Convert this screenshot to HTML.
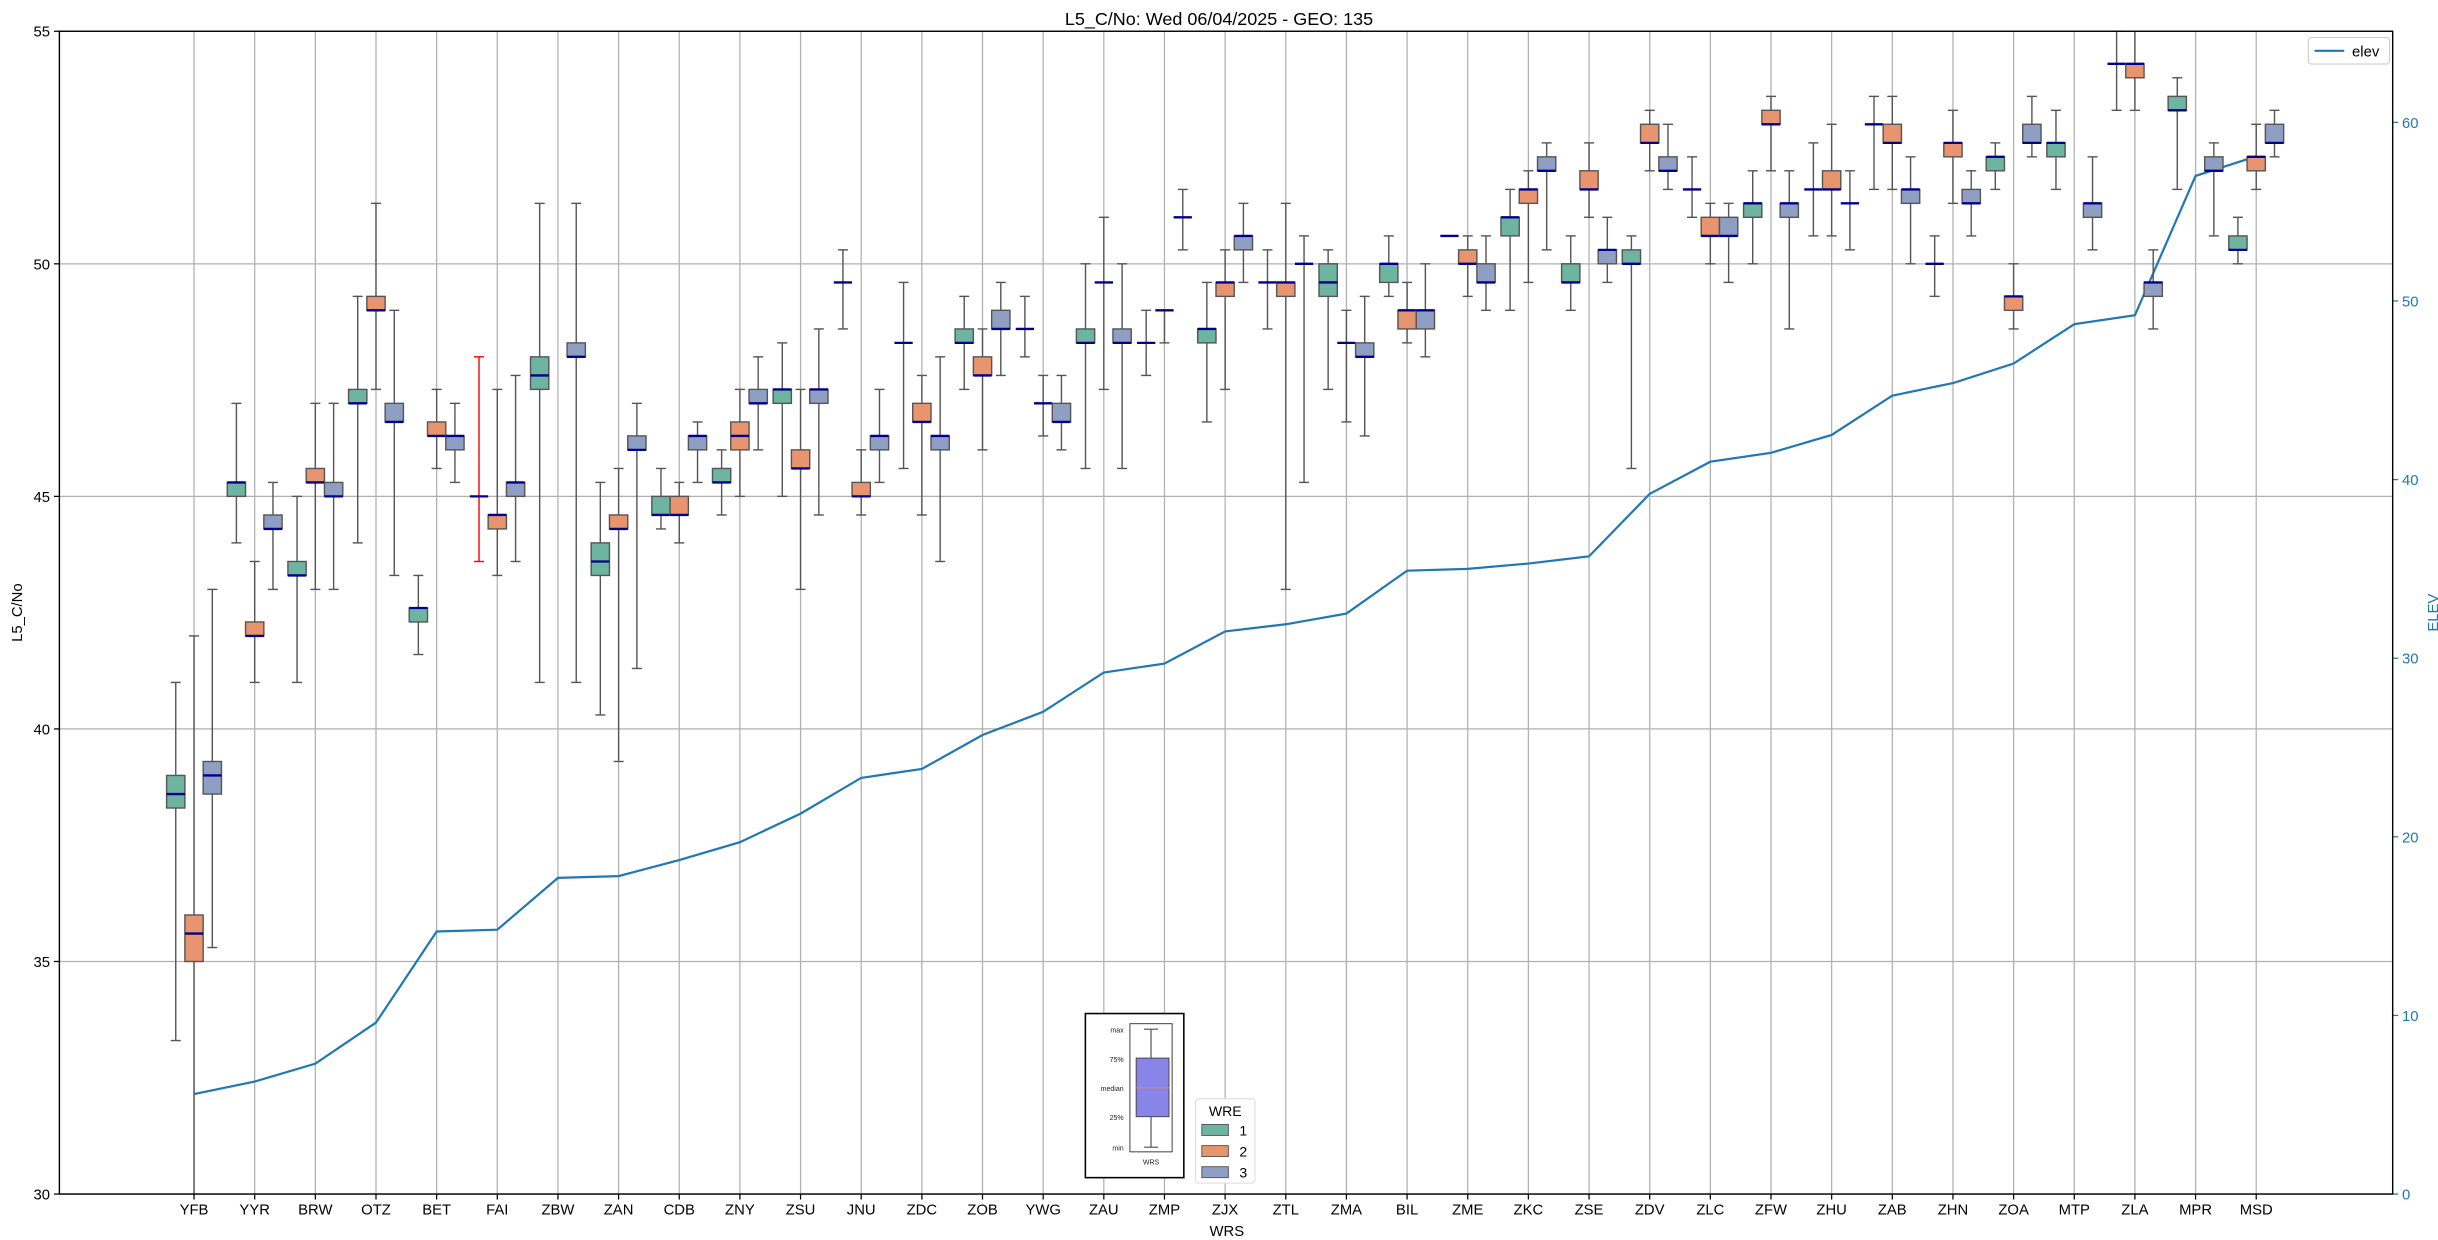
<!DOCTYPE html>
<html><head><meta charset="utf-8"><style>
html,body{margin:0;padding:0;background:#fff;}
svg{display:block;font-family:"Liberation Sans","DejaVu Sans",sans-serif;}
</style></head><body>
<svg id="chart" width="2438" height="1240" viewBox="0 0 1560 793.4" preserveAspectRatio="none" xmlns="http://www.w3.org/2000/svg">
<rect x="0" y="0" width="1560" height="793.4" fill="#fff"/>
<g id="grid"></g>
<g id="elevg"></g>
<g id="boxes"></g>
<g id="axes"></g>
<text x="780" y="16" font-size="11.5" text-anchor="middle">L5_C/No: Wed 06/04/2025 - GEO: 135</text>
<text x="785" y="791" font-size="9.5" text-anchor="middle">WRS</text>
<text x="14" y="392" font-size="9.5" text-anchor="middle" transform="rotate(-90 14 392)">L5_C/No</text>
<text x="1560" y="392" font-size="9.5" text-anchor="middle" fill="#1f77b4" transform="rotate(-90 1560 392)">ELEV</text>
<g>
<rect x="1477" y="24" width="52" height="17" fill="#fff" stroke="#ccc" stroke-width="0.7" rx="2"/>
<line x1="1481" y1="32.5" x2="1500" y2="32.5" stroke="#1f77b4" stroke-width="1.4"/>
<text x="1505" y="36" font-size="9.5">elev</text>
</g>
<g>
<rect x="694.5" y="648.5" width="63" height="105" fill="#fff" stroke="#000" stroke-width="1"/>
<rect x="723" y="655" width="27" height="82" fill="#fff" stroke="#333" stroke-width="0.6"/>
<line x1="736.5" y1="658.5" x2="736.5" y2="734" stroke="#444" stroke-width="0.7"/>
<line x1="732" y1="658.5" x2="741" y2="658.5" stroke="#444" stroke-width="0.7"/>
<line x1="732" y1="734" x2="741" y2="734" stroke="#444" stroke-width="0.7"/>
<rect x="727" y="677" width="21" height="37.5" fill="#8884e8" stroke="#444" stroke-width="0.6"/>
<line x1="727" y1="696" x2="748" y2="696" stroke="#f08a30" stroke-width="0.6"/>
<g font-size="4.5" text-anchor="end" fill="#222">
<text x="719" y="660.5">max</text><text x="719" y="679.5">75%</text><text x="719" y="698">median</text><text x="719" y="716.5">25%</text><text x="719" y="736">min</text>
</g>
<text x="736.5" y="745" font-size="4.5" text-anchor="middle" fill="#222">WRS</text>
</g>
<g>
<rect x="765" y="703" width="38" height="54" fill="#fff" stroke="#ddd" stroke-width="0.7" rx="2"/>
<text x="784" y="714" font-size="9" text-anchor="middle">WRE</text>
<rect x="769" y="719.5" width="17" height="7" fill="#6db5a0" stroke="#555" stroke-width="0.6"/>
<text x="793" y="726.5" font-size="9">1</text>
<rect x="769" y="733" width="17" height="7" fill="#e8956f" stroke="#555" stroke-width="0.6"/>
<text x="793" y="740" font-size="9">2</text>
<rect x="769" y="746.5" width="17" height="7" fill="#8f9fc3" stroke="#555" stroke-width="0.6"/>
<text x="793" y="753.5" font-size="9">3</text>
</g>
</svg>
<script>
const categories=["YFB","YYR","BRW","OTZ","BET","FAI","ZBW","ZAN","CDB","ZNY","ZSU","JNU","ZDC","ZOB","YWG","ZAU","ZMP","ZJX","ZTL","ZMA","BIL","ZME","ZKC","ZSE","ZDV","ZLC","ZFW","ZHU","ZAB","ZHN","ZOA","MTP","ZLA","MPR","MSD"];
// [min, q1, median, q3, max]
const wre1=[[33.3,38.3,38.6,39.0,41.0],[44.0,45.0,45.3,45.3,47.0],[41.0,43.3,43.3,43.6,45.0],[44.0,47.0,47.0,47.3,49.3],[41.6,42.3,42.6,42.6,43.3],[43.6,45.0,45.0,45.0,48.0],[41.0,47.3,47.6,48.0,51.3],[40.3,43.3,43.6,44.0,45.3],[44.3,44.6,44.6,45.0,45.6],[44.6,45.3,45.3,45.6,46.0],[45.0,47.0,47.3,47.3,48.3],[48.6,49.6,49.6,49.6,50.3],[45.6,48.3,48.3,48.3,49.6],[47.3,48.3,48.3,48.6,49.3],[48.0,48.6,48.6,48.6,49.3],[45.6,48.3,48.3,48.6,50.0],[47.6,48.3,48.3,48.3,49.0],[46.6,48.3,48.6,48.6,49.6],[48.6,49.6,49.6,49.6,50.3],[47.3,49.3,49.6,50.0,50.3],[49.3,49.6,50.0,50.0,50.6],[50.6,50.6,50.6,50.6,50.6],[49.0,50.6,51.0,51.0,51.6],[49.0,49.6,49.6,50.0,50.6],[45.6,50.0,50.0,50.3,50.6],[51.0,51.6,51.6,51.6,52.3],[50.0,51.0,51.3,51.3,52.0],[50.6,51.6,51.6,51.6,52.6],[51.6,53.0,53.0,53.0,53.6],[49.3,50.0,50.0,50.0,50.6],[51.6,52.0,52.3,52.3,52.6],[51.6,52.3,52.6,52.6,53.3],[53.3,54.3,54.3,54.3,55.0],[51.6,53.3,53.3,53.6,54.0],[50.0,50.3,50.3,50.6,51.0]];
const wre2=[[29.0,35.0,35.6,36.0,42.0],[41.0,42.0,42.0,42.3,43.6],[43.0,45.3,45.3,45.6,47.0],[47.3,49.0,49.0,49.3,51.3],[45.6,46.3,46.3,46.6,47.3],[43.3,44.3,44.6,44.6,47.3],null,[39.3,44.3,44.3,44.6,45.6],[44.0,44.6,44.6,45.0,45.3],[45.0,46.0,46.3,46.6,47.3],[43.0,45.6,45.6,46.0,47.3],[44.6,45.0,45.0,45.3,46.0],[44.6,46.6,46.6,47.0,47.6],[46.0,47.6,47.6,48.0,48.6],[46.3,47.0,47.0,47.0,47.6],[47.3,49.6,49.6,49.6,51.0],[48.3,49.0,49.0,49.0,49.0],[47.3,49.3,49.6,49.6,50.3],[43.0,49.3,49.6,49.6,51.3],[46.6,48.3,48.3,48.3,49.0],[48.3,48.6,49.0,49.0,49.6],[49.3,50.0,50.0,50.3,50.6],[49.6,51.3,51.6,51.6,52.0],[51.0,51.6,51.6,52.0,52.6],[52.0,52.6,52.6,53.0,53.3],[50.0,50.6,50.6,51.0,51.3],[52.0,53.0,53.0,53.3,53.6],[50.6,51.6,51.6,52.0,53.0],[51.6,52.6,52.6,53.0,53.6],[51.3,52.3,52.6,52.6,53.3],[48.6,49.0,49.3,49.3,50.0],null,[53.3,54.0,54.3,54.3,55.2],null,[51.6,52.0,52.3,52.3,53.0]];
const wre3=[[35.3,38.6,39.0,39.3,43.0],[43.0,44.3,44.3,44.6,45.3],[43.0,45.0,45.0,45.3,47.0],[43.3,46.6,46.6,47.0,49.0],[45.3,46.0,46.3,46.3,47.0],[43.6,45.0,45.3,45.3,47.6],[41.0,48.0,48.0,48.3,51.3],[41.3,46.0,46.0,46.3,47.0],[45.3,46.0,46.3,46.3,46.6],[46.0,47.0,47.0,47.3,48.0],[44.6,47.0,47.3,47.3,48.6],[45.3,46.0,46.3,46.3,47.3],[43.6,46.0,46.3,46.3,48.0],[47.6,48.6,48.6,49.0,49.6],[46.0,46.6,46.6,47.0,47.6],[45.6,48.3,48.3,48.6,50.0],[50.3,51.0,51.0,51.0,51.6],[49.6,50.3,50.6,50.6,51.3],[45.3,50.0,50.0,50.0,50.6],[46.3,48.0,48.0,48.3,49.3],[48.0,48.6,49.0,49.0,50.0],[49.0,49.6,49.6,50.0,50.6],[50.3,52.0,52.0,52.3,52.6],[49.6,50.0,50.3,50.3,51.0],[51.6,52.0,52.0,52.3,53.0],[49.6,50.6,50.6,51.0,51.3],[48.6,51.0,51.3,51.3,52.0],[50.3,51.3,51.3,51.3,52.0],[50.0,51.3,51.6,51.6,52.3],[50.6,51.3,51.3,51.6,52.0],[52.3,52.6,52.6,53.0,53.6],[50.3,51.0,51.3,51.3,52.3],[48.6,49.3,49.6,49.6,50.3],[50.6,52.0,52.0,52.3,52.6],[52.3,52.6,52.6,53.0,53.3]];
const elev=[5.6,6.3,7.3,9.6,14.7,14.8,17.7,17.8,18.7,19.7,21.3,23.3,23.8,25.7,27.0,29.2,29.7,31.5,31.9,32.5,34.9,35.0,35.3,35.7,39.2,41.0,41.5,42.5,44.7,45.4,46.5,48.7,49.2,57.0,58.1];
const yTicks=[30,35,40,45,50,55];
const y2Ticks=[0,10,20,30,40,50,60];
const redWhiskerCats=["FAI"];
</script>
<script>
const NS="http://www.w3.org/2000/svg";
const L=38,R=1531,T=20,B=764;
const xDom=[-2.22,categories.length+1.25];
function xs(i){return L+(i-xDom[0])/(xDom[1]-xDom[0])*(R-L);}
function ys(v){return B-(v-30)/(55-30)*(B-T);}
function y2s(v){return B-(v-0)/(65.1-0)*(B-T);}
function mk(tag,attrs,parent){const e=document.createElementNS(NS,tag);for(const k in attrs)e.setAttribute(k,attrs[k]);parent.appendChild(e);return e;}
const grid=document.getElementById('grid'),axes=document.getElementById('axes'),boxes=document.getElementById('boxes'),elevg=document.getElementById('elevg');
yTicks.forEach(t=>{
  const g=mk('line',{x1:L,x2:R,y1:ys(t),y2:ys(t),stroke:'#b0b0b0','stroke-width':0.8},grid);
  
  
  mk('line',{x1:L-3.5,x2:L,y1:ys(t),y2:ys(t),stroke:'#000','stroke-width':0.8},axes);
  const tx=mk('text',{x:L-6,y:ys(t)+3.5,'font-size':9.5,'text-anchor':'end'},axes);
  tx.textContent=t;
  
  
});
y2Ticks.forEach(t=>{
  mk('line',{x1:R,x2:R+3.5,y1:y2s(t),y2:y2s(t),stroke:'#1f77b4','stroke-width':0.8},axes);
  const tx=mk('text',{x:R+6,y:y2s(t)+3.5,'font-size':9.5,fill:'#1f77b4'},axes);
  tx.textContent=t;
  
  
});
categories.forEach((c,i)=>{
  const g=mk('line',{x1:xs(i),x2:xs(i),y1:T,y2:B,stroke:'#b0b0b0','stroke-width':0.8},grid);
  
  
  mk('line',{x1:xs(i),x2:xs(i),y1:B,y2:B+3.5,stroke:'#000','stroke-width':0.8},axes);
  const tx=mk('text',{x:xs(i),y:B+13,'font-size':9.5,'text-anchor':'middle'},axes);
  tx.textContent=c;
  
  
});
mk('rect',{x:L,y:T,width:R-L,height:B-T,fill:'none',stroke:'#000','stroke-width':0.9},axes);
// elevation line
let d='';
elev.forEach((v,i)=>{d+=(i?'L':'M')+xs(i).toFixed(2)+','+y2s(v).toFixed(2);});
const pl=mk('path',{d:d,fill:'none',stroke:'#1f77b4','stroke-width':1.4},elevg);


// boxes
const series=[wre1,wre2,wre3],colors=['#6db5a0','#e8956f','#8f9fc3'],offs=[-11.7,0,11.7],bw=11.7,cap=3.2;
const clipY=v=>Math.min(B,Math.max(T,ys(v)));
series.forEach((s,si)=>{
  s.forEach((b,i)=>{
    if(!b)return;
    const cx=xs(i)+offs[si];
    const g=mk('g',{},boxes);
    
    
    const wc=(si===0&&redWhiskerCats.includes(categories[i]))?'#ff0000':'#555';
    const [lo,q1,md,q3,hi]=b;
    mk('line',{x1:cx,x2:cx,y1:clipY(hi),y2:ys(q3),stroke:wc,'stroke-width':0.9},g);
    mk('line',{x1:cx,x2:cx,y1:ys(q1),y2:clipY(lo),stroke:wc,'stroke-width':0.9},g);
    if(lo>=30)mk('line',{x1:cx-cap,x2:cx+cap,y1:ys(lo),y2:ys(lo),stroke:wc,'stroke-width':0.9},g);
    if(hi<=55)mk('line',{x1:cx-cap,x2:cx+cap,y1:ys(hi),y2:ys(hi),stroke:wc,'stroke-width':0.9},g);
    if(q3>q1)mk('rect',{x:cx-bw/2,y:ys(q3),width:bw,height:ys(q1)-ys(q3),fill:colors[si],stroke:'#555','stroke-width':0.9},g);
    mk('line',{x1:cx-bw/2,x2:cx+bw/2,y1:ys(md),y2:ys(md),stroke:'#00008b','stroke-width':1.5},g);
  });
});
</script>
</body></html>
